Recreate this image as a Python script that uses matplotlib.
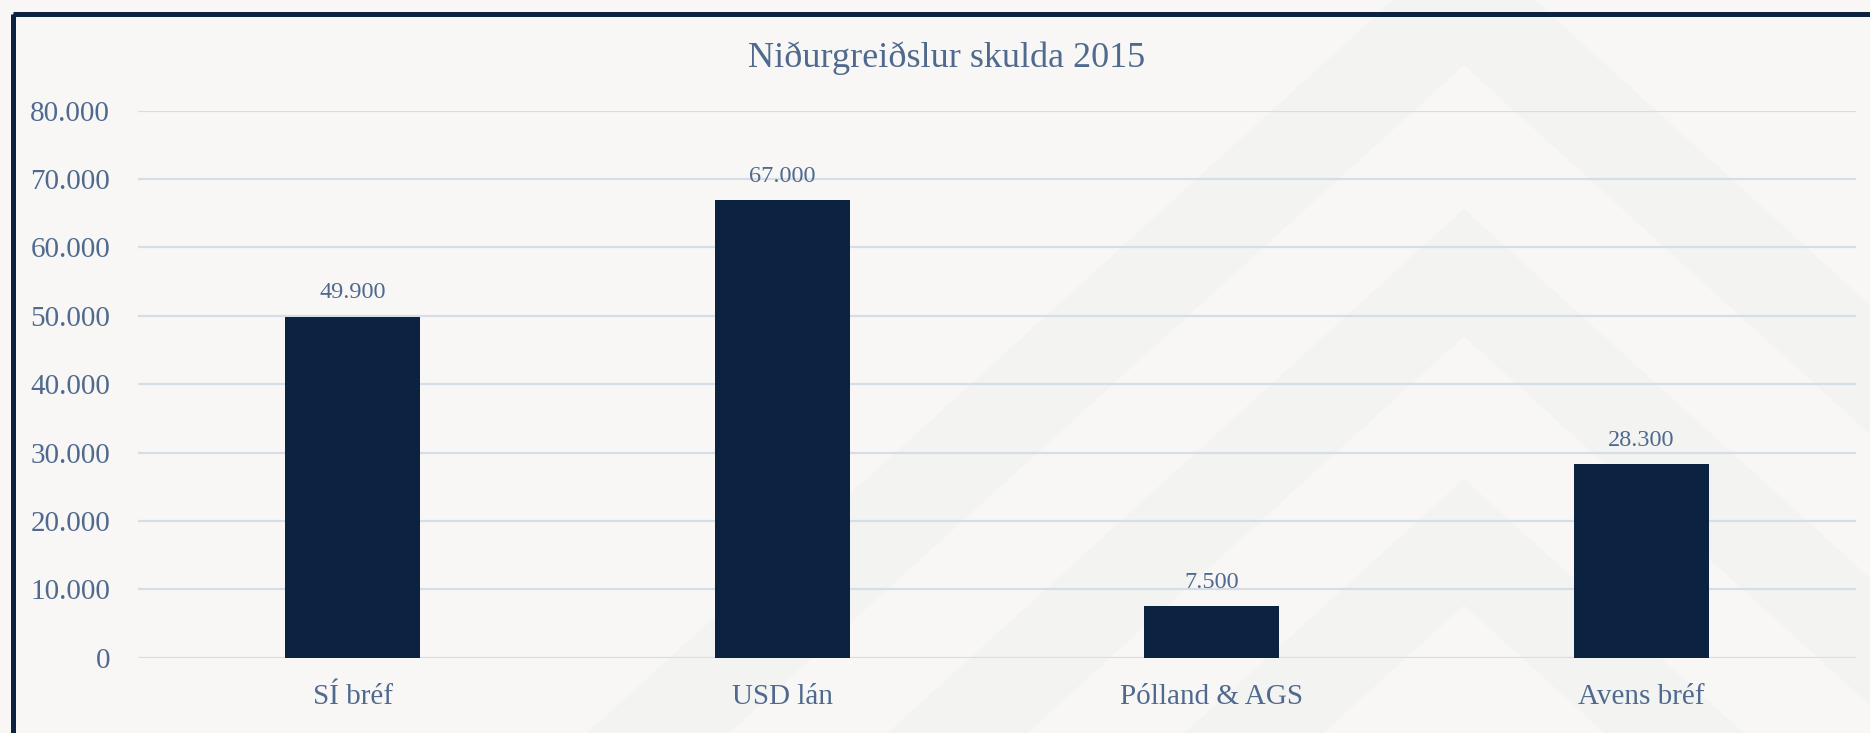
import numpy as np
import matplotlib.pyplot as plt
from matplotlib.patches import Polygon, Rectangle

# Data
categories = ['SÍ bréf', 'USD lán', 'Pólland & AGS', 'Avens bréf']
values = [49900, 67000, 7500, 28300]
y_ticks = [0, 10000, 20000, 30000, 40000, 50000, 60000, 70000, 80000]
title = 'Niðurgreiðslur skulda 2015'

# Colours
bg_col = '#f8f7f5'
band_col = '#f3f3f1'
navy = '#0b2340'
text_col = '#4f6a8e'
grid_col = '#d5dde8'

W, H = 1870, 733
plt.rcParams['font.family'] = ['Liberation Serif', 'DejaVu Serif']

fig = plt.figure(figsize=(W / 100, H / 100), dpi=100, facecolor=bg_col)

# Background decoration: nested chevron bands, drawn in pixel space
bgax = fig.add_axes([0, 0, 1, 1], zorder=0)
bgax.set_xlim(0, W)
bgax.set_ylim(H, 0)
bgax.axis('off')
apex_x = 1464
slope = 1.1  # dx per dy
bands = [(-64, 65), (209, 336), (479, 605)]
L = 3000
for y_out, y_in in bands:
    pts = [(apex_x - L, y_out + L / slope), (apex_x, y_out), (apex_x + L, y_out + L / slope),
           (apex_x + L, y_in + L / slope), (apex_x, y_in), (apex_x - L, y_in + L / slope)]
    bgax.add_patch(Polygon(pts, closed=True, facecolor=band_col, edgecolor='none'))

# dark frame round the chart
bgax.add_patch(Rectangle((12.5, 13.5), W + 100, H + 100, fill=False,
                         edgecolor=navy, linewidth=3.6, joinstyle='round'))

# Main chart
ax = fig.add_axes([138 / W, (H - 657.7) / H, (1856 - 138) / W, (657.7 - 110.7) / H], zorder=1)
ax.patch.set_alpha(0)
x = np.arange(len(categories))
bars = ax.bar(x, values, width=0.315, color=navy, zorder=3)

ax.set_xlim(-0.5, len(categories) - 0.5)
ax.set_ylim(0, 80000)
ax.set_yticks(y_ticks)
ax.set_yticklabels([f'{v:,.0f}'.replace(',', '.') for v in y_ticks])
ax.set_xticks(x)
ax.set_xticklabels(categories)
ax.tick_params(axis='y', length=0, pad=20, labelsize=21, labelcolor=text_col)
ax.tick_params(axis='x', length=0, pad=19, labelsize=21, labelcolor=text_col)
ax.grid(axis='y', color=grid_col, linewidth=1.6, zorder=1)
for s in ax.spines.values():
    s.set_visible(False)

for b, v in zip(bars, values):
    ax.annotate(f'{v:,.0f}'.replace(',', '.'), (b.get_x() + b.get_width() / 2, v),
                xytext=(0, 13), textcoords='offset points', ha='center', va='baseline',
                fontsize=17.5, color=text_col)

fig.text(947 / W, (H - 66.7) / H, title, ha='center', va='baseline',
         fontsize=26, color=text_col)

fig.savefig('out.png', dpi=100, facecolor=bg_col)
